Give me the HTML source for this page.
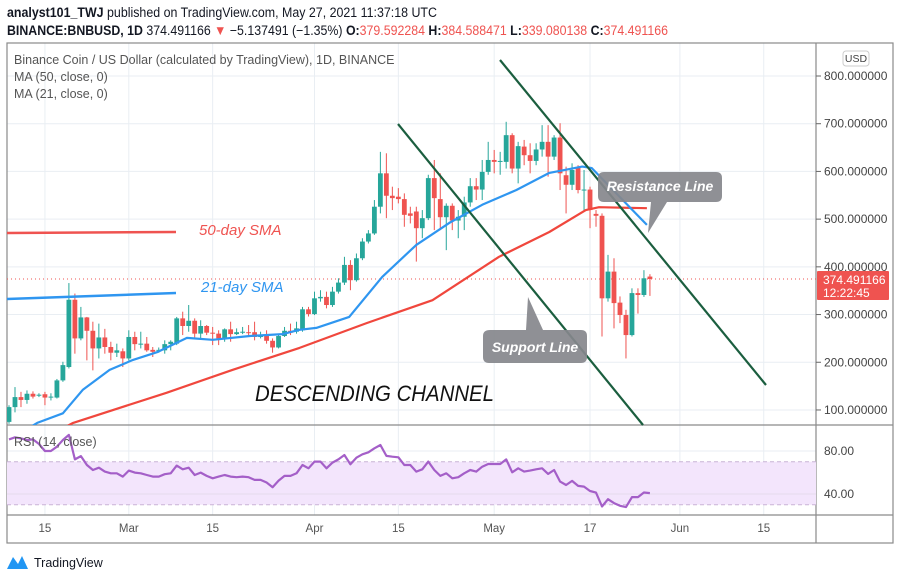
<!DOCTYPE html>
<html><head><meta charset="utf-8"><style>
html,body{margin:0;padding:0;background:#fff;}
svg{display:block;font-family:"Liberation Sans",sans-serif;}
</style></head><body>
<svg id="c" width="900" height="580" viewBox="0 0 900 580">
<g>
<text x="7" y="17" font-size="13.5" fill="#131722" textLength="430" lengthAdjust="spacingAndGlyphs"><tspan font-weight="bold">analyst101_TWJ</tspan> published on TradingView.com, May 27, 2021 11:37:18 UTC</text>
<text x="7" y="35" font-size="13.5" fill="#131722" textLength="661" lengthAdjust="spacingAndGlyphs"><tspan font-weight="bold">BINANCE:BNBUSD, 1D</tspan> 374.491166 <tspan fill="#ef5350">▼</tspan> −5.137491 (−1.35%) <tspan font-weight="bold">O:</tspan><tspan fill="#ef5350">379.592284</tspan> <tspan font-weight="bold">H:</tspan><tspan fill="#ef5350">384.588471</tspan> <tspan font-weight="bold">L:</tspan><tspan fill="#ef5350">339.080138</tspan> <tspan font-weight="bold">C:</tspan><tspan fill="#ef5350">374.491166</tspan></text>
</g>
<g id="grid"></g>
<rect x="7" y="43" width="886" height="500" fill="none" stroke="#8a8a8a" stroke-width="1.2"/>
<line x1="816" y1="43" x2="816" y2="543" stroke="#8a8a8a" stroke-width="1.2"/>
<line x1="7" y1="425" x2="893" y2="425" stroke="#8a8a8a" stroke-width="1.2"/>
<line x1="7" y1="515" x2="893" y2="515" stroke="#8a8a8a" stroke-width="1.2"/>
<defs><clipPath id="mainclip"><rect x="7" y="43" width="809" height="382"/></clipPath><clipPath id="rsiclip"><rect x="7" y="425" width="809" height="90"/></clipPath></defs>
<g id="main" clip-path="url(#mainclip)"></g>
<g id="rsi" clip-path="url(#rsiclip)"></g>
<g id="axes"></g>
<g font-size="12.5" fill="#555">
<text x="14" y="64">Binance Coin / US Dollar (calculated by TradingView), 1D, BINANCE</text>
<text x="14" y="81">MA (50, close, 0)</text>
<text x="14" y="98">MA (21, close, 0)</text>
<text x="14" y="446">RSI (14, close)</text>
</g>
<g>
<line x1="7" y1="233" x2="176" y2="232" stroke="#ef5350" stroke-width="2.5"/>
<text x="199" y="235" font-size="15" font-style="italic" fill="#ef5350">50-day SMA</text>
<line x1="7" y1="299" x2="176" y2="293" stroke="#2f96f0" stroke-width="2.5"/>
<text x="201" y="292" font-size="15" font-style="italic" fill="#2f96f0">21-day SMA</text>
<line x1="398" y1="124" x2="643" y2="425" stroke="#1b5e3f" stroke-width="2.2"/>
<line x1="500" y1="60" x2="766" y2="385" stroke="#1b5e3f" stroke-width="2.2"/>
<text x="255" y="401" font-size="22" font-style="italic" fill="#111" textLength="239" lengthAdjust="spacingAndGlyphs">DESCENDING CHANNEL</text>
<g>
<path d="M490 330 H526 L528 297 L543 330 H581 Q587 330 587 336 V357 Q587 363 581 363 H489 Q483 363 483 357 V336 Q483 330 490 330 Z" fill="#85878c" opacity="0.92"/>
<text x="535" y="352" font-size="14" font-style="italic" font-weight="bold" fill="#fff" text-anchor="middle">Support Line</text>
</g>
<g>
<path d="M604 172 H716 Q722 172 722 178 V196 Q722 202 716 202 H667 L648 233 L651 202 H604 Q598 202 598 196 V178 Q598 172 604 172 Z" fill="#85878c" opacity="0.92"/>
<text x="660" y="191" font-size="14" font-style="italic" font-weight="bold" fill="#fff" text-anchor="middle">Resistance Line</text>
</g>
</g>
<g>
<path d="M7 569 L13 557 L18 564 L22 556 L28 569 Z" fill="#2196f3"/>
<text x="34" y="567" font-size="12.5" fill="#131722">TradingView</text>
</g>
</svg>
<script>
const opens=[75,106,127,121,134,130,133,126,126,162,190,331,250,294,266,229,252,232,220,223,208,253,238,239,226,225,225,238,239,292,276,287,260,276,262,260,250,269,259,262,263,263,253,255,245,231,255,266,264,267,311,301,334,337,320,348,367,404,372,418,453,470,526,596,549,547,542,512,516,481,502,586,542,504,528,497,505,535,569,562,599,624,620,620,676,606,652,634,622,646,662,631,671,592,572,609,561,562,511,507,334,390,325,299,257,345,341,379.59];
const highs=[110,148,138,141,139,135,138,135,165,201,366,344,316,295,285,281,270,243,239,229,267,264,264,253,232,231,246,246,295,306,320,292,288,278,274,267,271,285,271,274,278,285,264,267,250,257,274,281,285,316,316,348,351,348,358,376,421,414,428,460,477,540,641,638,568,565,554,526,526,519,593,624,596,533,533,519,547,586,586,624,662,645,641,704,680,662,666,659,659,697,697,676,701,610,617,613,603,568,519,512,425,418,338,310,355,355,393,384.59];
const lows=[71,95,106,113,124,127,110,120,124,159,187,218,246,204,183,208,218,204,211,190,204,225,229,222,211,220,218,225,236,257,264,252,248,257,236,236,243,243,257,259,257,246,250,239,220,229,253,257,260,264,296,299,327,313,316,344,362,351,369,414,449,467,512,502,519,533,484,491,411,460,498,477,477,435,477,460,477,526,540,540,593,596,593,606,596,575,613,596,613,631,589,624,561,512,561,554,519,481,484,254,327,271,282,208,254,302,337,339.08];
const closes=[106,127,121,134,128,132,126,128,162,194,331,250,294,266,229,252,232,220,225,208,253,238,239,225,222,226,238,243,292,276,287,260,276,262,260,250,269,259,263,264,262,253,255,245,231,255,266,262,271,311,301,334,337,320,348,367,404,372,418,453,470,526,596,549,544,542,509,507,481,502,586,544,504,528,497,505,535,569,562,599,624,620,622,676,606,653,634,622,646,662,631,671,596,572,603,561,562,519,507,334,390,324,299,257,345,341,376,374.49];
const ma21Days=[3,4.7,9,12.3,16.8,20.7,24.7,29.7,34,40.2,45.7,48.5,51.3,56.8,62.3,68,73.5,79,84.7,90.2,95.7,97.3,101.3,106.5];
const ma21Vals=[60,73,93,142,184,205,221,251,247,255,259,268,272,295,379,446,492,530,561,597,610,607,555,488];
const ma50Days=[8,10.7,26.3,37.3,48.5,59.7,70.7,81.8,90.2,96.3,98.5,106.5];
const ma50Vals=[55,73,136,184,230,282,330,421,473,519,525,523];
const rsiVals=[90.8,92.7,91.7,90.2,90.8,86.5,80,80,84,90.2,95,72.2,75.3,67,62.3,64.5,60.8,59.3,59.3,56.2,61.8,59.9,59.3,57.7,56.2,56.2,58.4,59.3,66.4,63,64.5,57.7,59.9,56.8,54.6,56.2,57.7,56.2,55.6,56.2,55.6,53.1,53.1,50.7,46.3,52.5,56.8,56.8,59.3,67,63.9,70.1,70.1,63.9,69.2,72.2,76.3,67.6,73.8,76.9,78.8,82.5,85.6,75.4,74.7,74.1,67,67,60.8,63,70.1,62.3,56.8,59.3,54.6,55.6,59.3,62.3,60.8,65.4,67.9,67.9,67.9,72.2,60.2,63.9,60.8,61.8,63,63.9,58.7,62.3,51.5,48.4,52.2,47.5,46.9,42.8,41.3,28.4,35.2,31.5,29,27.8,37.1,37.1,41.4,40.8];
const priceTicks=[100,200,300,400,500,600,700,800];
const rsiTicks=[40,80];
const timeLabels=["15","Mar","15","Apr","15","May","17","Jun","15"];
const timeDays=[6,20,34,51,65,81,97,112,126];
const lastPrice=374.491166;

const NS="http://www.w3.org/2000/svg";
const xS=d=>9+d*5.99;
const yP=p=>76+(800-p)*0.4771;
const yR=v=>494-(v-40)*1.075;
function mk(tag,attrs,parent){const e=document.createElementNS(NS,tag);for(const k in attrs)e.setAttribute(k,attrs[k]);parent.appendChild(e);return e;}
const grid=document.getElementById('grid'),main=document.getElementById('main'),rsi=document.getElementById('rsi'),axes=document.getElementById('axes');

priceTicks.forEach(p=>{
  const g=mk('line',{x1:7,x2:816,y1:yP(p),y2:yP(p),stroke:'#e9eef3','stroke-width':1},grid);
  
  
  const t=mk('line',{x1:816,x2:821,y1:yP(p),y2:yP(p),stroke:'#666'},axes);
  
  
  const l=mk('text',{x:824,y:yP(p)+4,'font-size':12,fill:'#444'},axes);
  l.textContent=p.toFixed(6);
  
  
});
timeDays.forEach((d,i)=>{
  const g=mk('line',{x1:xS(d),x2:xS(d),y1:43,y2:515,stroke:'#e9eef3','stroke-width':1},grid);
  
  
  const l=mk('text',{x:xS(d),y:532,'font-size':11.5,fill:'#555','text-anchor':'middle'},axes);
  l.textContent=timeLabels[i];
  
  
});
rsiTicks.forEach(v=>{
  const g=mk('line',{x1:7,x2:816,y1:yR(v),y2:yR(v),stroke:'#e9eef3','stroke-width':1},grid);
  
  
  const l=mk('text',{x:824,y:yR(v)+4,'font-size':12,fill:'#444'},axes);
  l.textContent=v.toFixed(2);
  
  
});
const ub=mk('rect',{x:843,y:51,width:26,height:15,rx:3,fill:'#fff',stroke:'#ccc'},axes);


const ut=mk('text',{x:856,y:62,'font-size':10.5,fill:'#444','text-anchor':'middle'},axes);
ut.textContent='USD';



const pl=mk('line',{x1:7,x2:816,y1:yP(lastPrice),y2:yP(lastPrice),stroke:'#ef5350','stroke-width':1,'stroke-dasharray':'1 3'},main);



for(let i=0;i<closes.length;i++){
  const x=xS(i),o=opens[i],c=closes[i],up=c>=o,col=up?'#26a69a':'#ef5350';
  const w=mk('line',{x1:x,x2:x,y1:yP(highs[i]),y2:yP(lows[i]),stroke:col,'stroke-width':1},main);
  
  
  const top=yP(Math.max(o,c)),bot=yP(Math.min(o,c));
  const b=mk('rect',{x:x-2.4,y:top,width:4.8,height:Math.max(1,bot-top),fill:col},main);
  
  
}
function line(days,vals,col,name,parent,yf){
  const pts=days.map((d,i)=>xS(d).toFixed(1)+','+yf(vals[i]).toFixed(1)).join(' ');
  const p=mk('polyline',{points:pts,fill:'none',stroke:col,'stroke-width':2.2,'stroke-linejoin':'round'},parent);
  
  
}
line(ma50Days,ma50Vals,'#f0473d','ma50-line',main,yP);
line(ma21Days,ma21Vals,'#2f96f0','ma21-line',main,yP);

const band=mk('rect',{x:7,y:yR(70),width:809,height:yR(30)-yR(70),fill:'#f3e5fc'},rsi);


[70,30].forEach(v=>{
  const d=mk('line',{x1:7,x2:816,y1:yR(v),y2:yR(v),stroke:'#c9b3d6','stroke-width':1,'stroke-dasharray':'4 3'},rsi);
  
  
});
const mid=mk('line',{x1:7,x2:816,y1:yR(40),y2:yR(40),stroke:'#e4dcec','stroke-width':1},rsi);


line(rsiVals.map((v,i)=>i),rsiVals,'#a45fc8','rsi-line',rsi,yR);

const pb=mk('rect',{x:817,y:yP(lastPrice)-8,width:72,height:29,fill:'#ef5350',rx:1},axes);


const pt=mk('text',{x:823,y:yP(lastPrice)+5,'font-size':12,fill:'#fff'},axes);
pt.textContent=lastPrice.toFixed(6);


const ct=mk('text',{x:823,y:yP(lastPrice)+18,'font-size':12,fill:'#fff'},axes);
ct.textContent='12:22:45';


</script>
</body></html>
